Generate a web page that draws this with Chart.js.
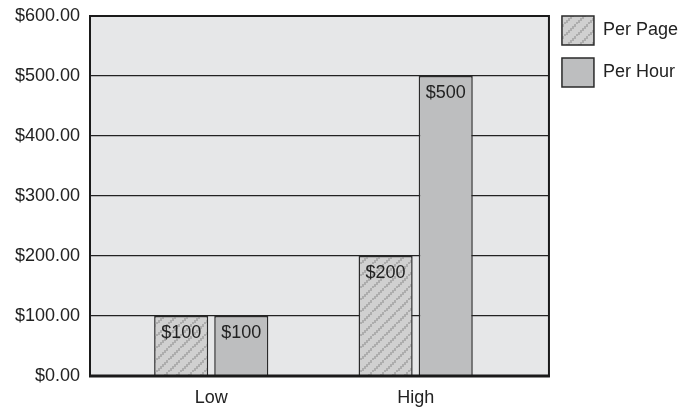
<!DOCTYPE html>
<html>
<head>
<meta charset="utf-8">
<script src="https://cdn.jsdelivr.net/npm/chart.js@4/dist/chart.umd.min.js"></script>
<style>
  html, body { margin: 0; padding: 0; background: #ffffff; }
  #wrap { width: 681px; height: 408px; position: relative; }
</style>
</head>
<body>
<div id="wrap"><canvas id="c" width="681" height="408"></canvas></div>
<script>
// ---- data ----
const categories = ["Low", "High"];
const seriesNames = ["Per Page", "Per Hour"];
const perPage = [100, 200];
const perHour = [100, 500];
const yTicks = [0, 100, 200, 300, 400, 500, 600];

const FONT = '"Liberation Sans", Arial, Helvetica, sans-serif';
const TEXT = '#222222';

function makeHatch() {
  const s = 12;
  const c = document.createElement('canvas');
  c.width = s; c.height = s;
  const g = c.getContext('2d');
  g.fillStyle = '#d0d0d0';
  g.fillRect(0, 0, s, s);
  g.fillStyle = '#adadad';
  for (let i = 0; i < s; i += 2) {
    const y = (s - 2 - i + s) % s;
    g.fillRect(i, y, 2, 3);
  }
  return g.createPattern(c, 'repeat');
}
const hatch = makeHatch();

const plotBg = {
  id: 'plotBg',
  beforeDraw(chart) {
    const { ctx, chartArea: a } = chart;
    ctx.save();
    ctx.fillStyle = '#e6e7e8';
    ctx.fillRect(a.left, a.top, a.right - a.left, a.bottom - a.top);
    ctx.restore();
  },
  afterDraw(chart) {
    const { ctx, chartArea: a } = chart;
    ctx.save();
    ctx.strokeStyle = '#1a1a1a';
    ctx.lineWidth = 2;
    ctx.strokeRect(a.left, a.top, a.right - a.left, a.bottom - a.top);
    ctx.lineWidth = 3;
    ctx.beginPath();
    ctx.moveTo(a.left - 1, a.bottom);
    ctx.lineTo(a.right + 1, a.bottom);
    ctx.stroke();
    ctx.restore();
  }
};

const barLabels = {
  id: 'barLabels',
  afterDatasetsDraw(chart) {
    const { ctx } = chart;
    ctx.save();
    ctx.font = '18px ' + FONT;
    ctx.fillStyle = TEXT;
    ctx.textAlign = 'center';
    ctx.textBaseline = 'middle';
    chart.data.datasets.forEach((ds, i) => {
      chart.getDatasetMeta(i).data.forEach((el, j) => {
        ctx.fillText('$' + ds.data[j].y, el.x, el.y + 17);
      });
    });
    ctx.restore();
  }
};

new Chart(document.getElementById('c'), {
  type: 'bar',
  data: {
    datasets: [
      {
        label: seriesNames[0],
        data: perPage.map((v, i) => ({ x: i, y: v })),
        backgroundColor: hatch,
        borderColor: '#2a2a2a',
        borderWidth: 1.5,
        barPercentage: 0.9,
        categoryPercentage: 0.588
      },
      {
        label: seriesNames[1],
        data: perHour.map((v, i) => ({ x: i, y: v })),
        backgroundColor: '#bdbebf',
        borderColor: '#2a2a2a',
        borderWidth: 1.5,
        barPercentage: 0.9,
        categoryPercentage: 0.588
      }
    ]
  },
  options: {
    responsive: false,
    animation: false,
    layout: { padding: { top: 3, left: 0, right: -7, bottom: 0 } },
    plugins: {
      tooltip: { enabled: false },
      legend: {
        position: 'right',
        align: 'start',
        labels: {
          boxWidth: 32,
          boxHeight: 29,
          padding: 13,
          color: TEXT,
          font: { family: FONT, size: 18 }
        }
      }
    },
    scales: {
      x: {
        type: 'linear',
        offset: false,
        min: -0.593,
        max: 1.652,
        afterBuildTicks(scale) { scale.ticks = categories.map((c, i) => ({ value: i })); },
        afterFit(scale) { scale.height = 32; },
        grid: { display: false, drawTicks: false },
        border: { display: false },
        ticks: {
          padding: 11,
          color: TEXT,
          font: { family: FONT, size: 18 },
          callback: (v) => categories[v]
        }
      },
      y: {
        min: 0,
        max: 600,
        afterBuildTicks(scale) { scale.ticks = yTicks.map(v => ({ value: v })); },
        afterFit(scale) { scale.width = 90; scale.paddingTop = 16; scale.paddingBottom = 0; },
        grid: { color: '#222222', lineWidth: 1.3, drawTicks: false },
        border: { display: false },
        ticks: {
          padding: 10,
          color: TEXT,
          font: { family: FONT, size: 18 },
          callback: (v) => '$' + v.toFixed(2)
        }
      }
    }
  },
  plugins: [plotBg, barLabels]
});
</script>
</body>
</html>
